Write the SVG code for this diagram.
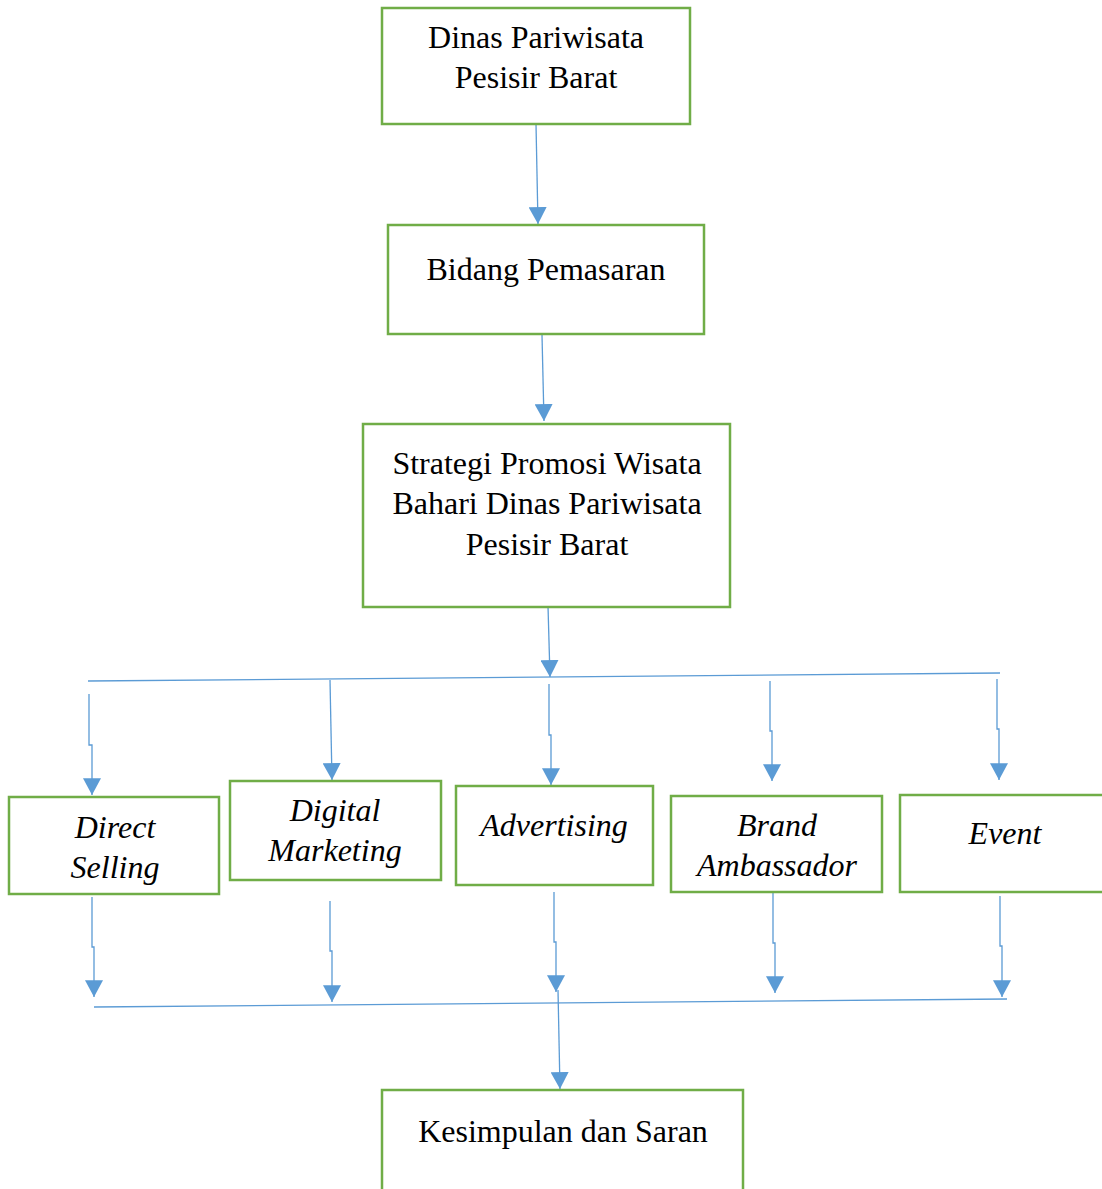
<svg xmlns="http://www.w3.org/2000/svg" width="1102" height="1189" viewBox="0 0 1102 1189">
<style>
.box{fill:#fff;stroke:#70AD47;stroke-width:2.5}
.t{font-family:"Liberation Serif","Times New Roman",serif;font-size:32px;fill:#000;text-anchor:middle}
.i{font-style:italic}
.c{fill:none;stroke:#5B9BD5;stroke-width:1.3}
</style>
<defs>
<marker id="ah" markerUnits="userSpaceOnUse" markerWidth="18" markerHeight="18" viewBox="0 0 16 16" refX="15" refY="8" orient="auto">
<path d="M0,0 L15,8 L0,16 Z" fill="#5B9BD5"/>
</marker>
</defs>
<rect width="1102" height="1189" fill="#fff"/>
<g id="connectors">
<path class="c" d="M536,124 L538,224" marker-end="url(#ah)"/>
<path class="c" d="M542,335 L544,421" marker-end="url(#ah)"/>
<path class="c" d="M548,606 L550,677" marker-end="url(#ah)"/>
<path class="c" d="M88,681 L1000,673"/>
<path class="c" d="M89,694 V745 H92 V795" marker-end="url(#ah)"/>
<path class="c" d="M330,680 L332,780" marker-end="url(#ah)"/>
<path class="c" d="M549,684 V735 H551 V785" marker-end="url(#ah)"/>
<path class="c" d="M770,681 V731 H772 V781" marker-end="url(#ah)"/>
<path class="c" d="M997,679 V729 H999 V780" marker-end="url(#ah)"/>
<path class="c" d="M92,897 V947 H94 V997" marker-end="url(#ah)"/>
<path class="c" d="M330,901 V951 H332 V1002" marker-end="url(#ah)"/>
<path class="c" d="M554,892 V942 H556 V992" marker-end="url(#ah)"/>
<path class="c" d="M773,893 V943 H775 V993" marker-end="url(#ah)"/>
<path class="c" d="M1000,896 V946 H1002 V997" marker-end="url(#ah)"/>
<path class="c" d="M94,1007 L1007,999"/>
<path class="c" d="M558,990 L560,1089" marker-end="url(#ah)"/>
</g>
<g id="dinas">
<rect class="box" x="382" y="8" width="308" height="116"/>
<text class="t" x="536" y="48">Dinas Pariwisata</text>
<text class="t" x="536" y="88">Pesisir Barat</text>
</g>
<g id="bidang">
<rect class="box" x="388" y="225" width="316" height="109"/>
<text class="t" x="546" y="280">Bidang Pemasaran</text>
</g>
<g id="strategi">
<rect class="box" x="363" y="424" width="367" height="183"/>
<text class="t" x="547" y="474">Strategi Promosi Wisata</text>
<text class="t" x="547" y="514">Bahari Dinas Pariwisata</text>
<text class="t" x="547" y="555">Pesisir Barat</text>
</g>
<g id="direct">
<rect class="box" x="9" y="797" width="210" height="97"/>
<text class="t i" x="115" y="838">Direct</text>
<text class="t i" x="115" y="878">Selling</text>
</g>
<g id="digital">
<rect class="box" x="230" y="781" width="211" height="99"/>
<text class="t i" x="335" y="821">Digital</text>
<text class="t i" x="335" y="861">Marketing</text>
</g>
<g id="advertising">
<rect class="box" x="456" y="786" width="197" height="99"/>
<text class="t i" x="554" y="836">Advertising</text>
</g>
<g id="brand">
<rect class="box" x="671" y="796" width="211" height="96"/>
<text class="t i" x="777" y="836">Brand</text>
<text class="t i" x="777" y="876">Ambassador</text>
</g>
<g id="event">
<rect class="box" x="900" y="795" width="210" height="97"/>
<text class="t i" x="1005" y="844">Event</text>
</g>
<g id="kesimpulan">
<rect class="box" x="382" y="1090" width="361" height="110"/>
<text class="t" x="563" y="1142">Kesimpulan dan Saran</text>
</g>
</svg>
